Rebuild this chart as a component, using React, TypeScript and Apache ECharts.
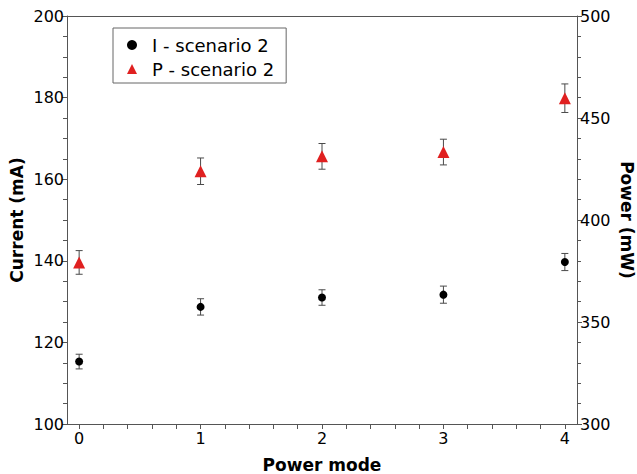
import React, { useEffect, useRef } from "react";
import * as echarts from "echarts";

const modes = [0, 1, 2, 3, 4];
const currentMA = [115.3, 128.7, 131.0, 131.7, 139.7];
const currentErr = [1.8, 2.0, 1.9, 2.1, 2.1];
const powerMW = [379.2, 423.9, 431.2, 433.3, 459.7];
const powerErr = [5.8, 6.5, 6.3, 6.3, 7.0];
const xLabelValues = [0, 1, 2, 3, 4];
const xTickValues = [0, 0.2, 0.4, 0.6, 0.8, 1, 1.2, 1.4, 1.6, 1.8, 2, 2.2, 2.4, 2.6, 2.8, 3, 3.2, 3.4, 3.6, 3.8, 4];

const FONT = "DejaVu Sans";
const AXIS_COLOR = "#555";

function errorBarItem(params: any, api: any) {
  const x = api.value(0);
  const lo = api.value(1);
  const hi = api.value(2);
  const p1 = api.coord([x, hi]);
  const p2 = api.coord([x, lo]);
  const w = 3.5;
  const style = { stroke: "#4a4a4a", lineWidth: 1 };
  return {
    type: "group",
    children: [
      { type: "line", shape: { x1: p1[0], y1: p1[1], x2: p2[0], y2: p2[1] }, style },
      { type: "line", shape: { x1: p1[0] - w, y1: p1[1], x2: p1[0] + w, y2: p1[1] }, style },
      { type: "line", shape: { x1: p2[0] - w, y1: p2[1], x2: p2[0] + w, y2: p2[1] }, style },
    ],
  };
}

export default function App() {
  const ref = useRef<HTMLDivElement>(null);
  useEffect(() => {
    if (!ref.current) return;
    const chart = echarts.init(ref.current, null, { renderer: "svg" });
    const currentPts = modes.map((m, i) => [m, currentMA[i]]);
    const powerPts = modes.map((m, i) => [m, powerMW[i]]);
    const currentBars = modes.map((m, i) => [m, currentMA[i] - currentErr[i], currentMA[i] + currentErr[i]]);
    const powerBars = modes.map((m, i) => [m, powerMW[i] - powerErr[i], powerMW[i] + powerErr[i]]);

    const labelStyle = { color: "#000", fontSize: 16, fontFamily: FONT };
    const nameStyle = { color: "#000", fontSize: 17, fontWeight: "bold" as const, fontFamily: FONT };

    chart.setOption({
      animation: false,
      backgroundColor: "#fff",
      grid: { left: 67, right: 60, top: 16, bottom: 50, containLabel: false, outerBoundsMode: "none" },
      legend: {
        data: [
          { name: "I - scenario 2", icon: "circle" },
          { name: "P - scenario 2", icon: "triangle" },
        ],
        orient: "vertical",
        left: 113,
        top: 28,
        borderColor: "#666",
        borderWidth: 1,
        padding: [7, 12, 4, 14],
        itemWidth: 10,
        itemHeight: 10,
        itemGap: 4,
        textStyle: { fontSize: 18, fontFamily: FONT, color: "#000", lineHeight: 20, padding: [0, 0, 0, 10] },
      },
      xAxis: [
        {
          type: "value",
          min: -0.1,
          max: 4.1,
          name: "Power mode",
          nameLocation: "middle",
          nameGap: 32,
          nameTextStyle: nameStyle,
          splitLine: { show: false },
          axisLine: { onZero: false, lineStyle: { color: AXIS_COLOR } },
          axisTick: { customValues: xTickValues, length: 5, lineStyle: { color: AXIS_COLOR } },
          axisLabel: { customValues: xLabelValues, ...labelStyle, margin: 6 },
        },
        {
          type: "value",
          position: "top",
          min: -0.1,
          max: 4.1,
          splitLine: { show: false },
          axisLine: { show: true, onZero: false, lineStyle: { color: AXIS_COLOR } },
          axisTick: { show: false },
          axisLabel: { show: false },
        },
      ],
      yAxis: [
        {
          type: "value",
          position: "left",
          min: 100,
          max: 200,
          interval: 20,
          name: "Current (mA)",
          nameLocation: "middle",
          nameRotate: 90,
          nameGap: 42,
          nameMoveOverlap: false,
          nameTextStyle: nameStyle,
          splitLine: { show: false },
          axisLine: { show: true, onZero: false, lineStyle: { color: AXIS_COLOR } },
          axisTick: { show: true, length: 5, lineStyle: { color: AXIS_COLOR } },
          minorTick: { show: true, splitNumber: 4, length: 4, lineStyle: { color: AXIS_COLOR } },
          axisLabel: { ...labelStyle, margin: 3 },
        },
        {
          type: "value",
          position: "right",
          min: 300,
          max: 500,
          interval: 50,
          name: "Power (mW)",
          nameLocation: "middle",
          nameRotate: -90,
          nameGap: 41,
          nameMoveOverlap: false,
          nameTextStyle: nameStyle,
          splitLine: { show: false },
          axisLine: { show: true, onZero: false, lineStyle: { color: AXIS_COLOR } },
          axisTick: { show: true, length: 5, lineStyle: { color: AXIS_COLOR } },
          minorTick: { show: true, splitNumber: 5, length: 4, lineStyle: { color: AXIS_COLOR } },
          axisLabel: { ...labelStyle, margin: 3 },
        },
      ],
      series: [
        {
          type: "custom",
          name: "I error",
          xAxisIndex: 0,
          yAxisIndex: 0,
          renderItem: errorBarItem,
          encode: { x: 0, y: [1, 2] },
          data: currentBars,
          clip: false,
          z: 1,
          silent: true,
        },
        {
          type: "custom",
          name: "P error",
          xAxisIndex: 0,
          yAxisIndex: 1,
          renderItem: errorBarItem,
          encode: { x: 0, y: [1, 2] },
          data: powerBars,
          clip: false,
          z: 1,
          silent: true,
        },
        {
          type: "scatter",
          name: "I - scenario 2",
          xAxisIndex: 0,
          yAxisIndex: 0,
          symbol: "circle",
          symbolSize: 8,
          itemStyle: { color: "#000", opacity: 1 },
          data: currentPts,
          z: 3,
        },
        {
          type: "scatter",
          name: "P - scenario 2",
          xAxisIndex: 0,
          yAxisIndex: 1,
          symbol: "triangle",
          symbolSize: 12,
          itemStyle: { color: "#e02020", opacity: 1 },
          data: powerPts,
          z: 3,
        },
      ],
    });
    return () => chart.dispose();
  }, []);
  return (
    <div
      ref={ref}
      style={{ position: "fixed", left: 0, top: 0, width: 637, height: 474, background: "#fff" }}
    />
  );
}
